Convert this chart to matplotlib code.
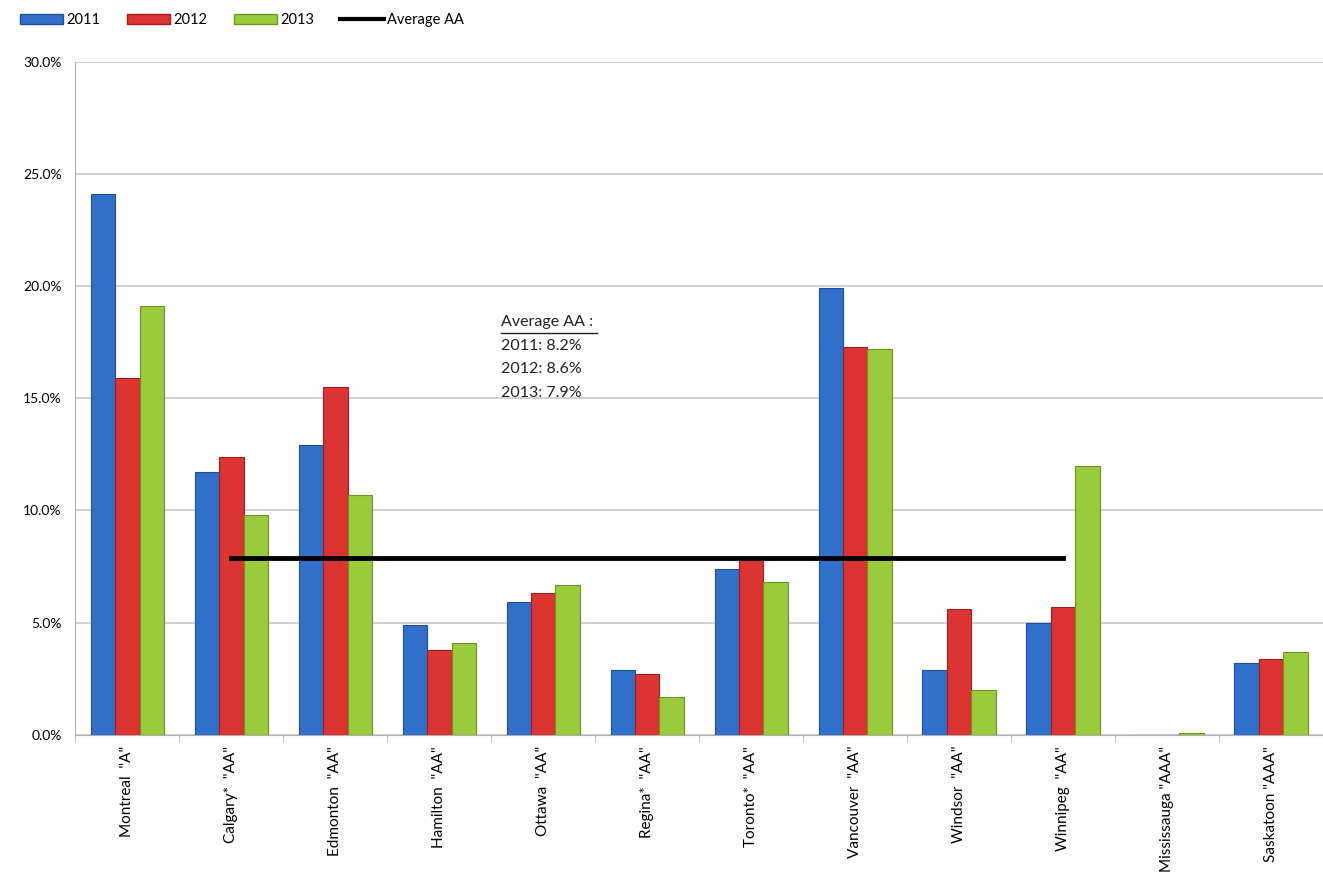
import numpy as np
import matplotlib
matplotlib.use('Agg')
import matplotlib.pyplot as plt
from matplotlib.ticker import FuncFormatter, MultipleLocator
from matplotlib.patches import Patch
from matplotlib.lines import Line2D

cities = ['Montreal  "A"', 'Calgary*  "AA"', 'Edmonton  "AA"', 'Hamilton  "AA"',
          'Ottawa  "AA"', 'Regina*  "AA"', 'Toronto*  "AA"', 'Vancouver  "AA"',
          'Windsor  "AA"', 'Winnipeg  "AA"', 'Mississauga "AAA"', 'Saskatoon "AAA"']
vals_2011 = [24.1, 11.7, 12.9, 4.9, 5.9, 2.9, 7.4, 19.9, 2.9, 5.0, 0.0, 3.2]
vals_2012 = [15.9, 12.4, 15.5, 3.8, 6.3, 2.7, 7.8, 17.3, 5.6, 5.7, 0.0, 3.4]
vals_2013 = [19.1, 9.8, 10.7, 4.1, 6.7, 1.7, 6.8, 17.2, 2.0, 12.0, 0.1, 3.7]
avg_aa = 7.9
avg_note = ['2011: 8.2%', '2012: 8.6%', '2013: 7.9%']

plt.rcParams['font.family'] = ['Lato', 'DejaVu Sans']

fig = plt.figure(figsize=(13.23, 8.94), dpi=100)
ax = fig.add_axes([0.057, 0.178, 0.943, 0.753])

x = np.arange(len(cities))
w = 0.235
series = [(vals_2011, '#3070cc', '#1f4f99', '2011'),
          (vals_2012, '#dc3333', '#a01e1e', '2012'),
          (vals_2013, '#9acb3a', '#6c9425', '2013')]
for i, (vals, col, edge, lab) in enumerate(series):
    ax.bar(x + (i - 1) * w, vals, width=w, color=col, edgecolor=edge, linewidth=0.8, zorder=3)

# average line across the AA cities
aa_idx = [i for i, c in enumerate(cities) if c.endswith('"AA"')]
ax.plot([x[aa_idx[0]], x[aa_idx[-1]]], [avg_aa, avg_aa], color='black', lw=3.5, zorder=4)

# note box
tx, ty = 3.59, 18.4
ax.text(tx, ty, 'Average AA :', fontsize=11.5, color='#222222', va='center', zorder=5)
ax.plot([tx, tx + 0.93], [ty - 0.5, ty - 0.5], color='#222222', lw=1, zorder=5)
for k, s in enumerate(avg_note):
    ax.text(tx, ty - 1.05 * (k + 1), s, fontsize=11.5, color='#222222', va='center', zorder=5)

ax.set_xlim(-0.5, len(cities) - 0.5)
ax.set_ylim(0, 30)
ax.yaxis.set_major_locator(MultipleLocator(5))
ax.yaxis.set_major_formatter(FuncFormatter(lambda v, p: '%.1f%%' % v))
ax.grid(axis='y', color='#c8c8c8', lw=1.2, zorder=0)
ax.set_xticks(x)
ax.set_xticklabels(cities, rotation=90, fontsize=11)
ax.set_xticks(np.arange(-0.5, len(cities), 1), minor=True)
ax.tick_params(axis='x', which='major', length=0, pad=8)
ax.tick_params(axis='x', which='minor', length=5, color='#b0b0b0')
ax.tick_params(axis='y', length=0, labelsize=10, pad=10)
for s in ['top', 'right']:
    ax.spines[s].set_visible(False)
ax.spines['left'].set_color('#b0b0b0')
ax.spines['bottom'].set_color('#b0b0b0')

handles = [Patch(facecolor=c, edgecolor=e, label=l) for _, c, e, l in series]
handles.append(Line2D([0], [0], color='black', lw=3, label='Average AA'))
fig.legend(handles=handles, loc='upper left', bbox_to_anchor=(0.005, 1.0), ncol=4,
           frameon=False, fontsize=10.5, handlelength=3.0, handleheight=0.6,
           handletextpad=0.2, columnspacing=1.8)

fig.savefig('out.png', dpi=100)
